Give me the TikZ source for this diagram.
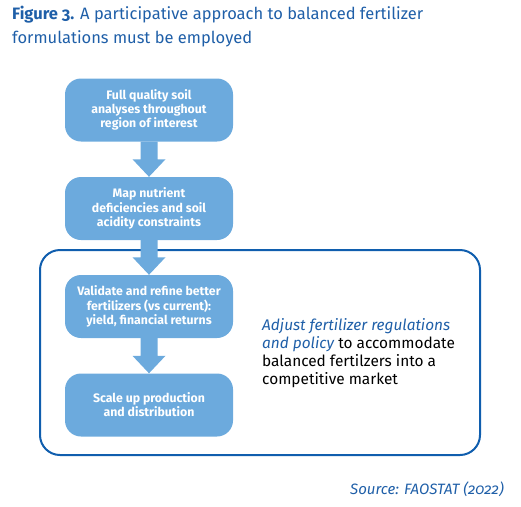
\documentclass[tikz,border=0pt]{standalone}
\usepackage{fontspec}
\setmainfont{Fira Sans}
\newfontfamily\oldnum[Numbers=OldStyle]{Fira Sans}
\usetikzlibrary{calc}
\definecolor{boxblue}{HTML}{6CAADD}
\definecolor{darkblue}{HTML}{105EAE}
\definecolor{titleblue}{HTML}{1F5FA8}
\tikzset{
  stepbox/.style={fill=boxblue, rounded corners=16pt, minimum width=168pt, minimum height=63pt,
    align=center, text=white, font=\fontsize{12.3}{14.2}\selectfont\bfseries, inner sep=0pt},
  frame/.style={draw=darkblue, line width=2pt, rounded corners=20pt},
}
\newcommand{\blockarrow}[2]{%
  \fill[boxblue] ($(#1.south)+(-8.5,0)$) -- ($(#1.south)+(8.5,0)$) -- ($(#2.north)+(8.5,-17.5)$)
    -- ($(#2.north)+(16.5,-17.5)$) -- (#2.north) -- ($(#2.north)+(-16.5,-17.5)$)
    -- ($(#2.north)+(-8.5,-17.5)$) -- cycle;}
\begin{document}
\begin{tikzpicture}[x=1pt,y=-1pt]
\useasboundingbox (0,0) rectangle (521,506);
\node[anchor=north west, inner sep=0pt, align=left, text=titleblue,
  font=\fontsize{16.5}{23.5}\selectfont] (title) at (12,6)
  {\textbf{Figure {\oldnum 3}.} A participative approach to balanced fertilizer\\formulations must be employed};
\draw[frame] (40,250) rectangle (480,455);
\node[stepbox] (b1) at (149,110) {Full quality soil\\analyses throughout\\region of interest};
\node[stepbox] (b2) at (149,208.5) {Map nutrient\\deficiencies and soil\\acidity constraints};
\node[stepbox] (b3) at (149,306.5) {Validate and refine better\\fertilizers (vs current):\\yield, financial returns};
\node[stepbox] (b4) at (149,405) {Scale up production\\and distribution};
\blockarrow{b1}{b2}
\blockarrow{b2}{b3}
\blockarrow{b3}{b4}
\node[anchor=west, inner sep=0pt, align=left, text=black, font=\fontsize{15.4}{17.8}\selectfont] (policy) at (262,353)
  {\textcolor{titleblue}{\itshape Adjust fertilizer regulations}\\\textcolor{titleblue}{\itshape and policy} to accommodate\\balanced fertilzers into a\\competitive market};
\node[anchor=east, inner sep=0pt, text=titleblue, font=\fontsize{15}{17}\selectfont\itshape] (src) at (504,489)
  {Source: FAOSTAT ({\oldnum\itshape 2022})};
\end{tikzpicture}
\end{document}
